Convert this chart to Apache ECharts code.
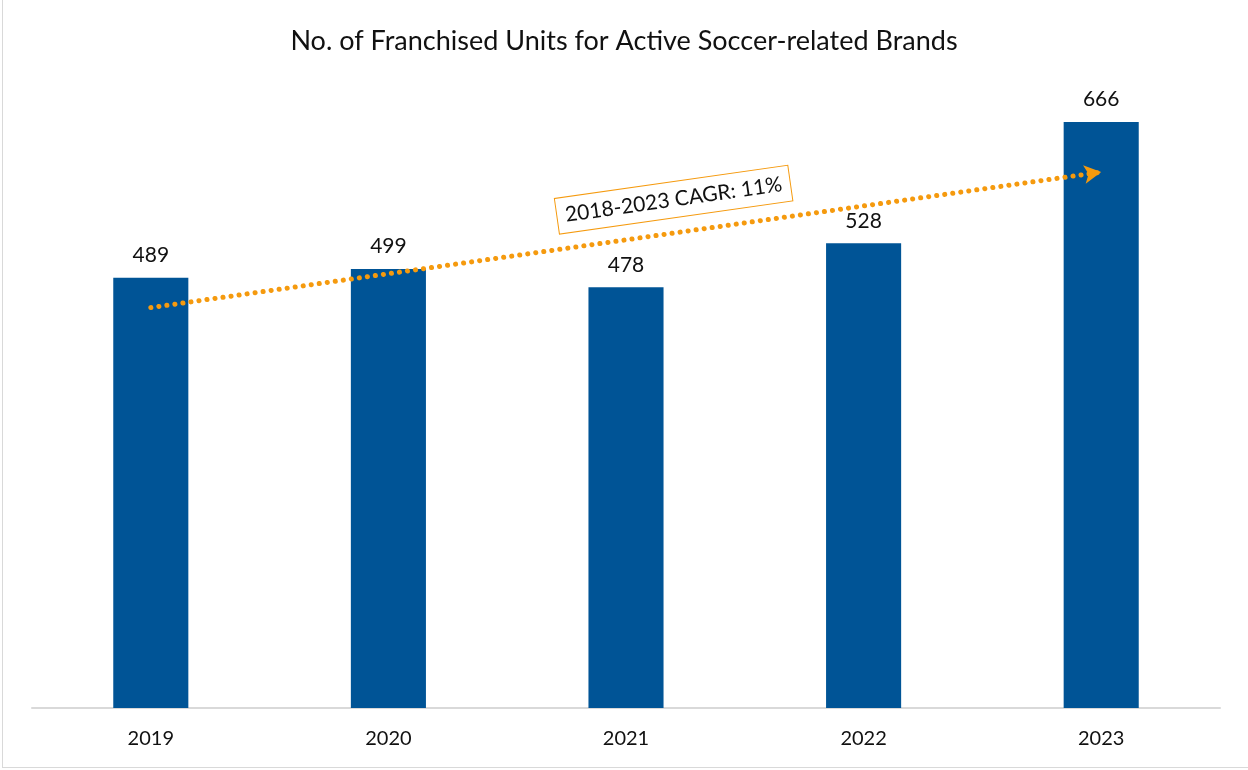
<!DOCTYPE html>
<html>
<head>
<meta charset="utf-8">
<script src="https://cdn.jsdelivr.net/npm/echarts@6/dist/echarts.min.js"></script>
<style>
  html, body { margin: 0; padding: 0; background: #fff; }
  #frame { position: absolute; left: 2px; top: 0; width: 1246px; height: 768px; border-left: 1px solid #d9d9d9; border-bottom: 1px solid #d9d9d9; box-sizing: border-box; }
  #chart { position: absolute; left: 0; top: 0; width: 1248px; height: 770px; }
</style>
</head>
<body>
<div id="frame"></div>
<div id="chart"></div>
<script>
// Franchised units per year
const years = ['2019', '2020', '2021', '2022', '2023'];
const units = [489, 499, 478, 528, 666];
// Trend arrow endpoints (first and last year) and its annotation
const trendStart = 455;
const trendEnd = 609;
const cagrText = '2018-2023 CAGR: 11%';

const FONT = 'Lato, "Open Sans", sans-serif';
const ORANGE = '#F59A0E';

const chart = echarts.init(document.getElementById('chart'), null, { renderer: 'canvas' });

chart.setOption({
  backgroundColor: 'transparent',
  animation: false,
  title: {
    text: 'No. of Franchised Units for Active Soccer-related Brands',
    left: 'center',
    top: 23,
    textStyle: { fontFamily: FONT, fontSize: 27, fontWeight: 'normal', color: '#111' }
  },
  grid: { left: 32, right: 28, top: 92, bottom: 62 },
  xAxis: {
    type: 'category',
    data: years,
    axisLine: { lineStyle: { color: '#d9d9d9', width: 2 } },
    axisTick: { show: false },
    axisLabel: { fontFamily: FONT, fontSize: 20, color: '#111', margin: 21 }
  },
  yAxis: {
    type: 'value',
    min: 0,
    max: 700,
    show: false,
    splitLine: { show: false }
  },
  series: [{
    type: 'bar',
    data: units,
    barWidth: '31.6%',
    itemStyle: { color: '#005496' },
    label: {
      show: true,
      position: 'top',
      distance: 12,
      fontFamily: FONT,
      fontSize: 21,
      color: '#111'
    },
    markLine: {
      silent: true,
      animation: false,
      symbol: ['none', 'arrow'],
      symbolSize: [14, 17],
      label: { show: false },
      lineStyle: { color: ORANGE, width: 5, type: [0.1, 8], cap: 'round' },
      data: [[
        { coord: [0, trendStart], symbol: 'none' },
        { coord: [4, trendEnd], symbol: 'arrow' }
      ]]
    }
  }]
});

// CAGR note sits above the trend arrow, rotated to follow it
const p0 = chart.convertToPixel({ seriesIndex: 0 }, [0, trendStart]);
const p1 = chart.convertToPixel({ seriesIndex: 0 }, [4, trendEnd]);
const dx = p1[0] - p0[0], dy = p1[1] - p0[1];
const len = Math.sqrt(dx * dx + dy * dy);
const along = 0.555;   // fraction along the arrow
const lift = 33;       // distance above the arrow
const ux = dy / len, uy = -dx / len; // unit normal pointing upward
const angle = -Math.atan2(dy, dx);

chart.setOption({
  graphic: [{
    type: 'text',
    x: p0[0] + dx * along + ux * lift * (uy < 0 ? 1 : -1),
    y: p0[1] + dy * along + uy * lift * (uy < 0 ? 1 : -1),
    rotation: angle,
    style: {
      text: cagrText,
      fontFamily: FONT,
      fontSize: 21,
      fill: '#111',
      align: 'center',
      verticalAlign: 'middle',
      padding: [7, 8, 7, 8],
      borderColor: ORANGE,
      borderWidth: 1,
      borderType: [1, 2],
      backgroundColor: '#fff'
    },
    z: 100
  }]
});
</script>
</body>
</html>
